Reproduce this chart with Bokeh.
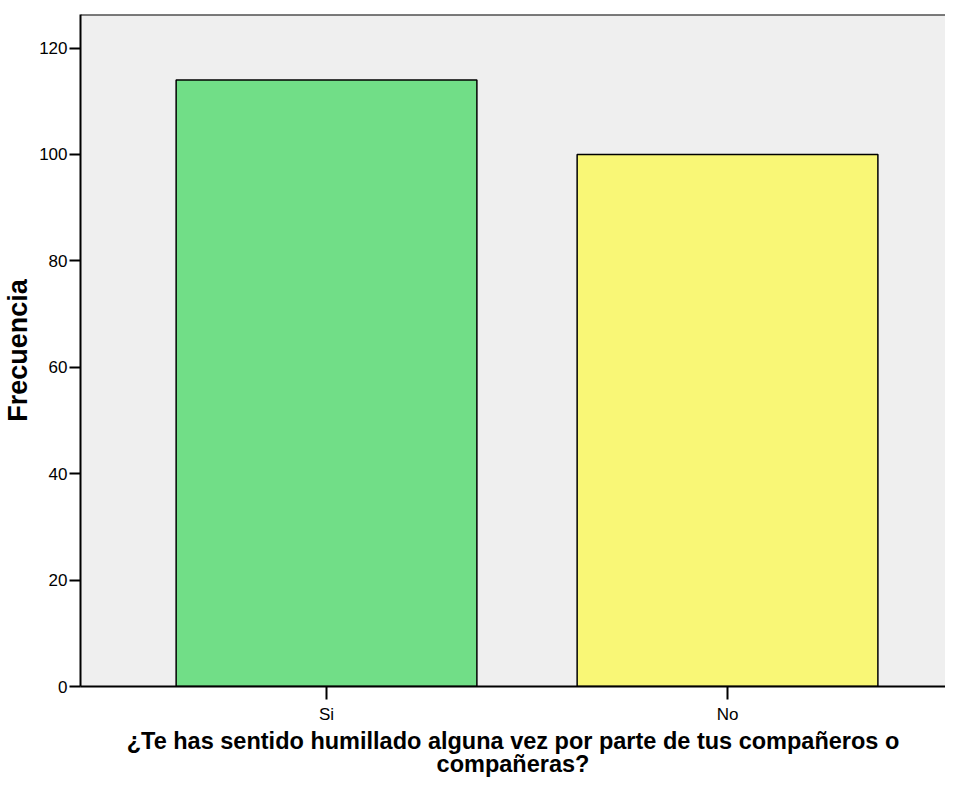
from bokeh.plotting import figure
from bokeh.models import Range1d, FixedTicker, Span
from bokeh.embed import file_html
from bokeh.resources import INLINE

categories = ["Si", "No"]
counts = [114, 100]
bar_colors = ["#71DE87", "#F9F776"]
y_ticks = [0, 20, 40, 60, 80, 100, 120]
x_title = "¿Te has sentido humillado alguna vez por parte de tus compañeros o\ncompañeras?"
y_title = "Frecuencia"

xs = list(range(1, len(categories) + 1))
Y_MAX = 126.3

p = figure(width=945, height=781, output_backend="svg", toolbar_location=None,
           x_range=Range1d(0.3865, 2.5436), y_range=Range1d(0, Y_MAX),
           min_border_left=80, min_border_right=0, min_border_top=14, min_border_bottom=95)
p.background_fill_color = "#EFEFEF"
p.border_fill_color = "white"
p.outline_line_color = None
p.grid.visible = False

p.vbar(x=xs, top=counts, width=0.75, fill_color=bar_colors, line_color="black", line_width=1.5)

p.add_layout(Span(location=Y_MAX, dimension="width", line_color="black", line_width=2))

# x axis
p.xaxis.ticker = FixedTicker(ticks=xs)
p.xaxis.major_label_overrides = {x: c for x, c in zip(xs, categories)}
p.xaxis.minor_tick_line_color = None
p.xaxis.major_tick_in = 0
p.xaxis.major_tick_out = 13
p.xaxis.major_tick_line_width = 2
p.xaxis.axis_line_width = 2
p.xaxis.major_label_text_font = "Liberation Sans"
p.xaxis.major_label_text_font_size = "17px"
p.xaxis.major_label_text_color = "black"
p.xaxis.major_label_standoff = 5
p.xaxis.axis_label = x_title
p.xaxis.axis_label_text_font = "Liberation Sans"
p.xaxis.axis_label_text_font_style = "bold"
p.xaxis.axis_label_text_font_size = "23.5px"
p.xaxis.axis_label_text_color = "black"
p.xaxis.axis_label_text_line_height = 0.9
p.xaxis.axis_label_standoff = 1

# y axis
p.yaxis.ticker = FixedTicker(ticks=y_ticks)
p.yaxis.minor_tick_line_color = None
p.yaxis.major_tick_in = 0
p.yaxis.major_tick_out = 11
p.yaxis.major_tick_line_width = 2
p.yaxis.axis_line_width = 2
p.yaxis.major_label_text_font = "Liberation Sans"
p.yaxis.major_label_text_font_size = "17px"
p.yaxis.major_label_text_color = "black"
p.yaxis.major_label_standoff = 2
p.yaxis.axis_label = y_title
p.yaxis.axis_label_text_font = "Liberation Sans"
p.yaxis.axis_label_text_font_style = "bold"
p.yaxis.axis_label_text_font_size = "27px"
p.yaxis.axis_label_text_color = "black"
p.yaxis.axis_label_standoff = 3

open("out.html", "w").write(file_html(p, INLINE))
